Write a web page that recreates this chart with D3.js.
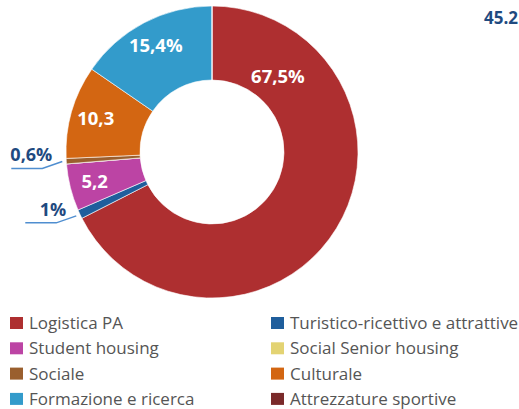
<!DOCTYPE html>
<html>
<head>
<meta charset="utf-8">
<script src="https://cdn.jsdelivr.net/npm/d3@7"></script>
<style>
  html, body { margin: 0; padding: 0; background: #fff; }
  svg { display: block; font-family: "Open Sans", Roboto, sans-serif; }
</style>
</head>
<body>
<svg id="chart" width="519" height="409"></svg>
<script>
    'use strict';

    var categories = ['Logistica PA', 'Turistico-ricettivo e attrattive', 'Student housing', 'Social Senior housing',
        'Sociale', 'Culturale', 'Formazione e ricerca', 'Attrezzature sportive'];
    var shares = [67.5, 1, 5.2, 0, 0.6, 10.3, 15.4, 0];
    var sliceLabels = ['67,5%', '1%', '5,2', '', '0,6%', '10,3', '15,4%', ''];
    var outsideLabel = [false, true, false, false, true, false, false, false];
    var colors = ['#ae2f30', '#1f5e9c', '#bc44a4', '#e3d373', '#9a5f2e', '#d36612', '#339bcb', '#7a2a2a'];
    var totalLabel = '45.2';

    var svg = d3.select('#chart');
    var cx = 212, cy = 152;
    var outerR = 146, innerR = 72;

    var pie = d3.pie().sort(null).value(function (d) { return d; });
    var arcs = pie(shares);

    var arc = d3.arc().innerRadius(innerR).outerRadius(outerR);

    var g = svg.append('g').attr('transform', 'translate(' + cx + ',' + cy + ')');

    g.selectAll('path.slice')
        .data(arcs)
        .enter().append('path')
        .attr('class', 'slice')
        .attr('d', arc)
        .attr('fill', function (d, i) { return colors[i]; })
        .attr('stroke', '#fff')
        .attr('stroke-width', 0.6);

    // labels inside the ring (the big slice gets its label near the top)
    arcs.forEach(function (d, i) {
        if (!sliceLabels[i] || outsideLabel[i]) return;
        var big = (d.endAngle - d.startAngle) > Math.PI;
        var a = big ? d.startAngle + 0.72 : (d.startAngle + d.endAngle) / 2;
        var r = big ? 100 : 121;
        g.append('text')
            .attr('x', r * Math.sin(a))
            .attr('y', -r * Math.cos(a))
            .attr('dy', '0.36em')
            .attr('text-anchor', 'middle')
            .attr('fill', '#fff')
            .attr('font-weight', 700)
            .attr('font-size', 18.5)
            .text(sliceLabels[i]);
    });

    // small slices: leader lines + labels outside
    arcs.forEach(function (d, i) {
        if (!outsideLabel[i]) return;
        var a = (d.startAngle + d.endAngle) / 2;
        var r0 = outerR + 4;
        var x0 = r0 * Math.sin(a), y0 = -r0 * Math.cos(a);
        var x1 = x0 - 20, y1 = y0 + 7;
        var x2 = x1 - 31;
        g.append('polyline')
            .attr('points', [[x0, y0], [x1, y1], [x2, y1]].map(function (p) { return p.join(','); }).join(' '))
            .attr('fill', 'none')
            .attr('stroke', '#4f8ed0')
            .attr('stroke-width', 1.5);
        g.append('text')
            .attr('x', x1 + 10)
            .attr('y', y1 - 7)
            .attr('text-anchor', 'end')
            .attr('fill', '#1f4a80')
            .attr('font-weight', 700)
            .attr('font-size', 18)
            .text(sliceLabels[i]);
    });

    svg.append('text')
        .attr('x', 484)
        .attr('y', 24)
        .attr('fill', '#1f4a80')
        .attr('font-weight', 700)
        .attr('font-size', 17)
        .text(totalLabel);

    // legend
    var legend = svg.append('g');
    var rowH = 25.3;
    categories.forEach(function (c, i) {
        var col = i % 2, row = Math.floor(i / 2);
        var lx = col === 0 ? 10 : 271;
        var ly = 323 + row * rowH;
        legend.append('rect')
            .attr('x', lx).attr('y', ly - 6)
            .attr('width', 13).attr('height', 12)
            .attr('fill', colors[i]);
        legend.append('text')
            .attr('x', lx + 19).attr('y', ly)
            .attr('dy', '0.35em')
            .attr('fill', '#555')
            .attr('font-size', 17)
            .text(c);
    });
</script>
</body>
</html>
